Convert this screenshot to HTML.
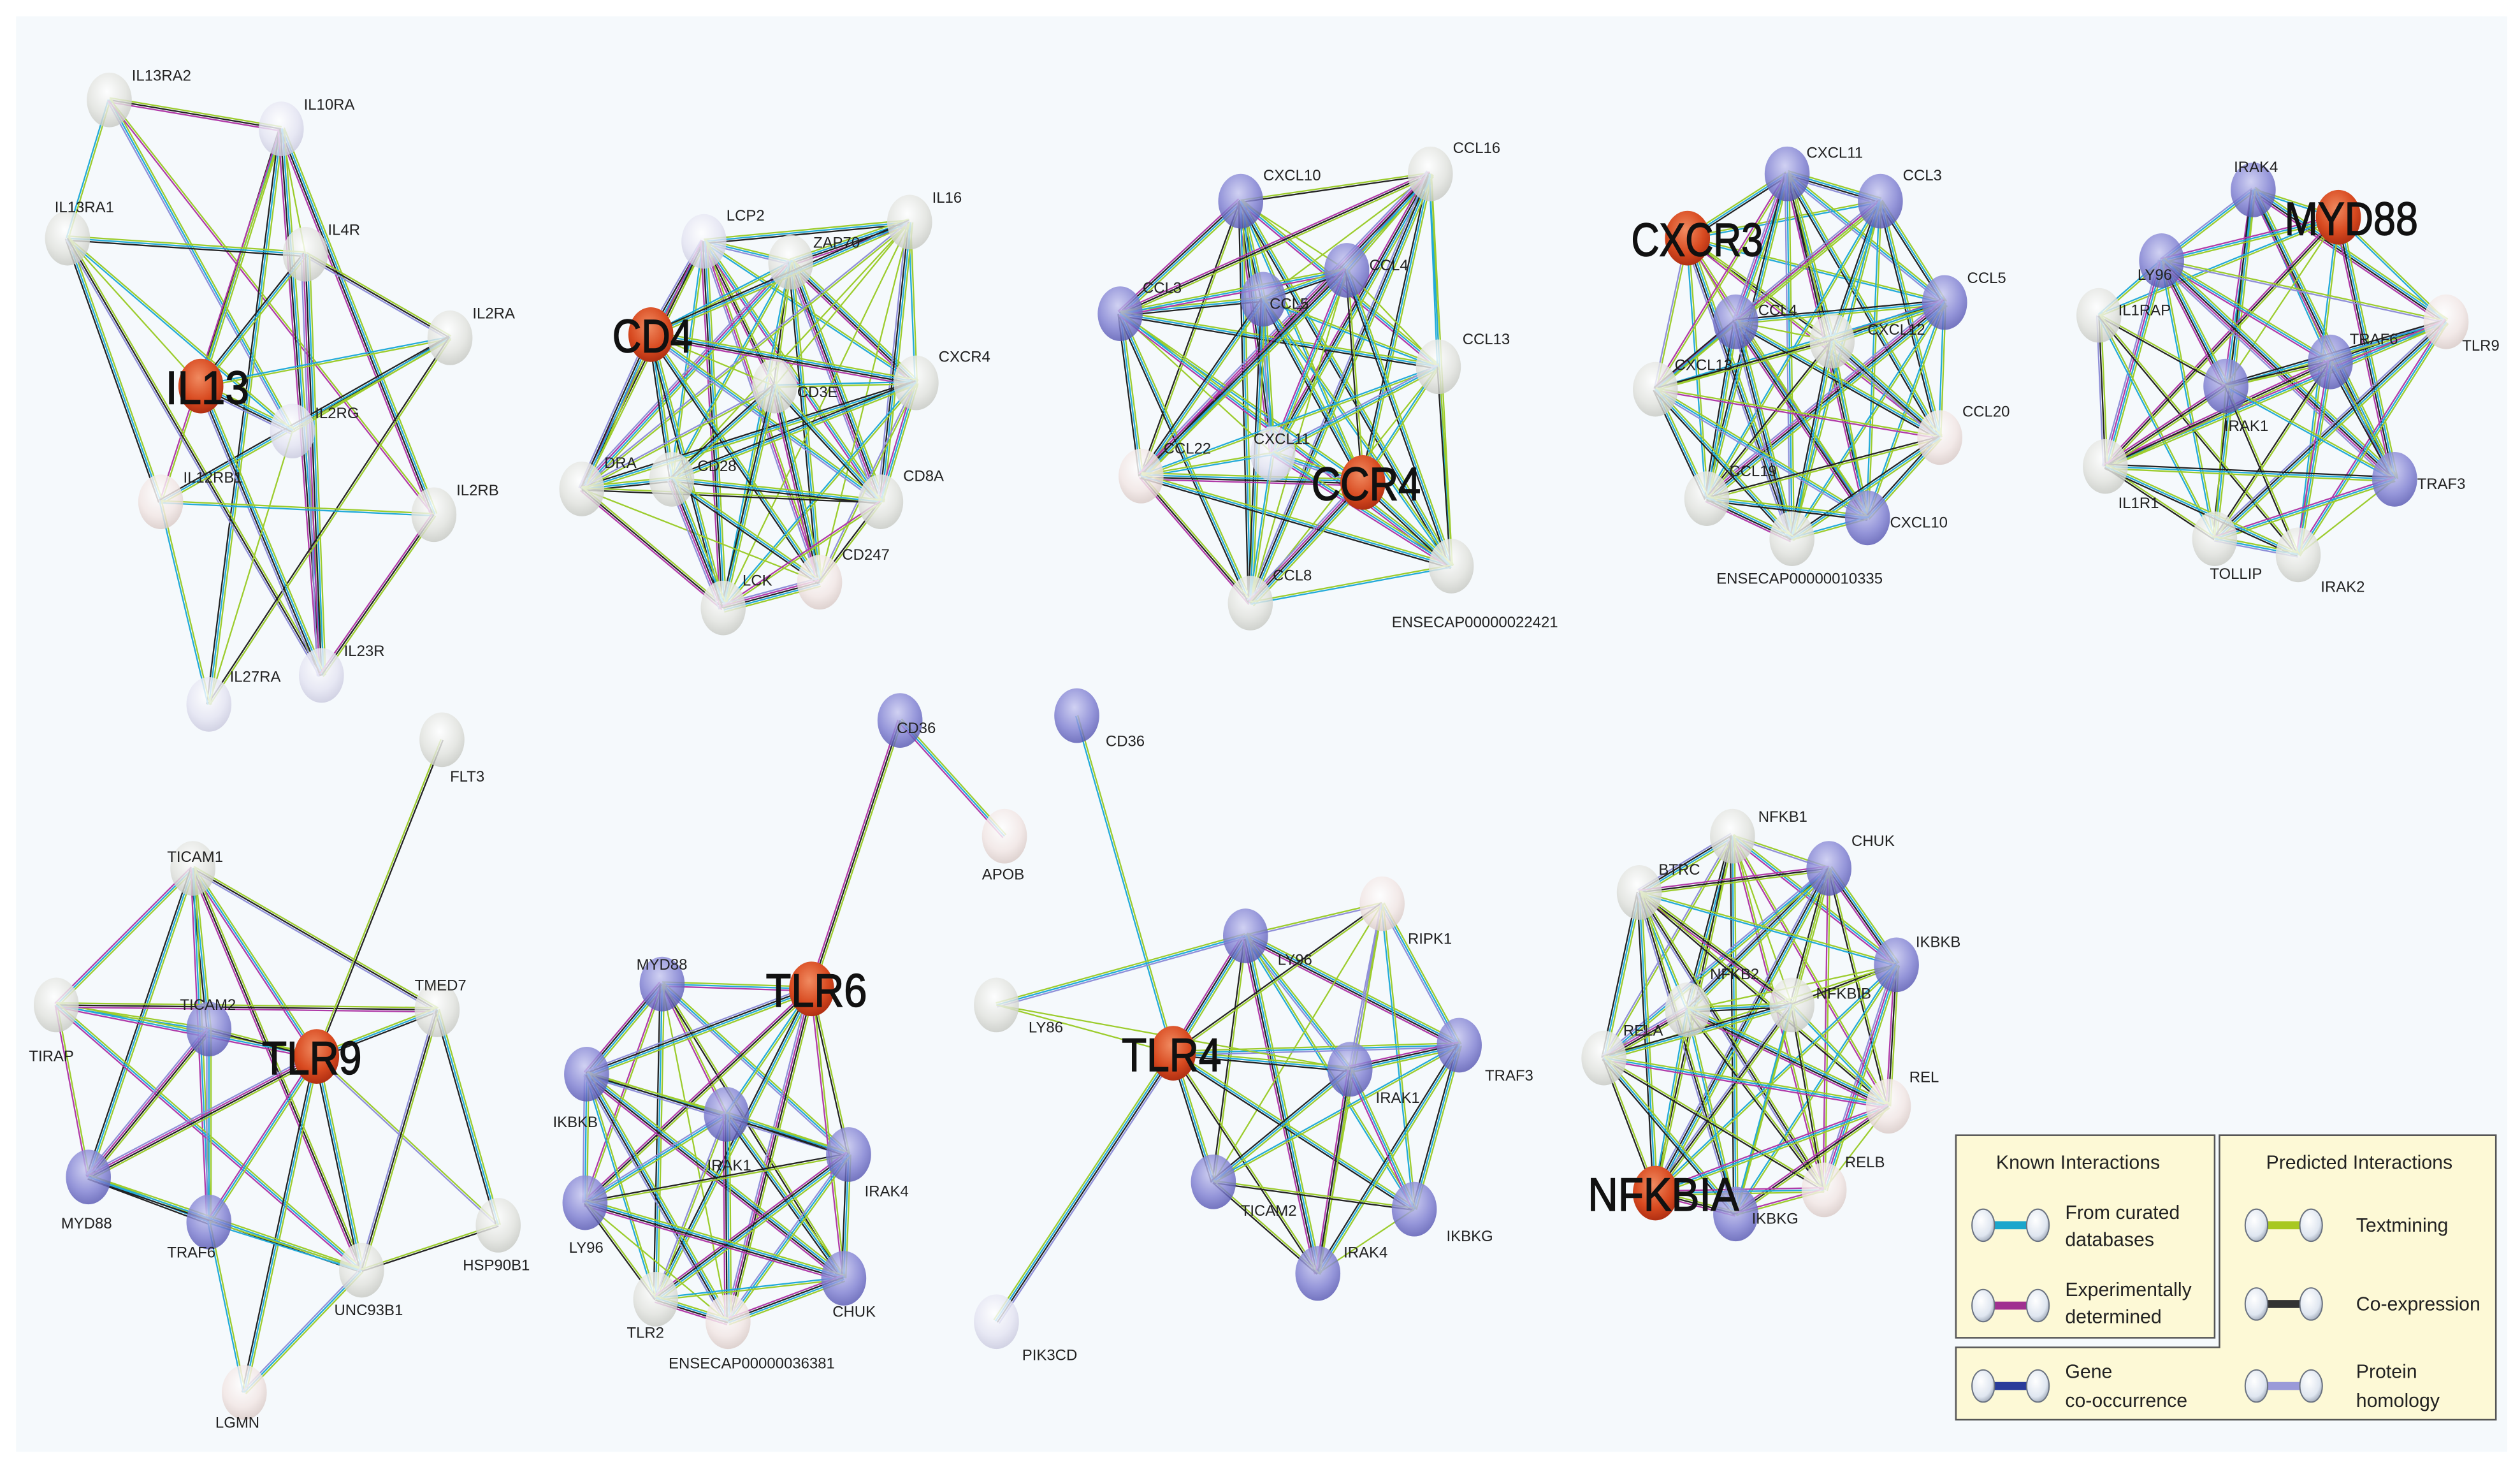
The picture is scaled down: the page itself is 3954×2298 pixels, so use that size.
<!DOCTYPE html>
<html><head><meta charset="utf-8">
<style>html,body{margin:0;padding:0;background:#fff}svg{display:block}</style>
</head><body>
<svg id="s" xmlns="http://www.w3.org/2000/svg" width="3954" height="2298" viewBox="0 0 1568 911">
<defs>
<radialGradient id="gG" cx="0.45" cy="0.35" r="0.7"><stop offset="0" stop-color="#ffffff"/><stop offset="0.6" stop-color="#e2e3de"/><stop offset="1" stop-color="#c2c4be"/></radialGradient>
<radialGradient id="gB" cx="0.45" cy="0.35" r="0.7"><stop offset="0" stop-color="#c8c8f0"/><stop offset="0.6" stop-color="#8080d2"/><stop offset="1" stop-color="#5050ac"/></radialGradient>
<radialGradient id="gL" cx="0.45" cy="0.35" r="0.7"><stop offset="0" stop-color="#ffffff"/><stop offset="0.6" stop-color="#e4e4f2"/><stop offset="1" stop-color="#c4c4da"/></radialGradient>
<radialGradient id="gP" cx="0.45" cy="0.35" r="0.7"><stop offset="0" stop-color="#ffffff"/><stop offset="0.6" stop-color="#f2e6e4"/><stop offset="1" stop-color="#d4c4c0"/></radialGradient>
<radialGradient id="gR" cx="0.45" cy="0.35" r="0.7"><stop offset="0" stop-color="#f08a60"/><stop offset="0.6" stop-color="#d84a20"/><stop offset="1" stop-color="#a82a10"/></radialGradient>
<radialGradient id="gK" cx="0.4" cy="0.35" r="0.7"><stop offset="0" stop-color="#ffffff"/><stop offset="0.7" stop-color="#dfe6f0"/><stop offset="1" stop-color="#9aa4b4"/></radialGradient>
</defs>
<rect x="0" y="0" width="1568" height="911" fill="#ffffff"/>
<rect x="10" y="10" width="1550" height="893" fill="#f5f9fc"/>
<g id="edges"></g><g id="nodes"></g><g id="labels" font-family="Liberation Sans, sans-serif" fill="#222"></g>
<g id="legend" font-family="Liberation Sans, sans-serif" fill="#222" font-size="12">
<path d="M1381,706 H1553 V883 H1217 V838 H1381 Z" fill="#fdf9d6" stroke="#555" stroke-width="1"/>
<rect x="1217" y="706" width="161" height="126" fill="#fdf9d6" stroke="#555" stroke-width="1"/>
<text x="1293" y="727" text-anchor="middle">Known Interactions</text>
<text x="1468" y="727" text-anchor="middle">Predicted Interactions</text>
<text x="1285" y="758">From curated</text><text x="1285" y="775">databases</text>
<text x="1285" y="806">Experimentally</text><text x="1285" y="823">determined</text>
<text x="1285" y="857">Gene</text><text x="1285" y="875">co-occurrence</text>
<text x="1466" y="766">Textmining</text>
<text x="1466" y="815">Co-expression</text>
<text x="1466" y="857">Protein</text><text x="1466" y="875">homology</text>
</g>
</svg>
<script>
var E=document.getElementById('edges'),N=document.getElementById('nodes'),L=document.getElementById('labels'),LG=document.getElementById('legend');
var NS='http://www.w3.org/2000/svg';
function el(t,a,p){var e=document.createElementNS(NS,t);for(var k in a)e.setAttribute(k,a[k]);p.appendChild(e);return e;}
var seed=7;function rnd(){seed=(seed*16807)%2147483647;return seed/2147483647;}
var COL=['#9ccc2c','#22aad8','#222222','#b03aa8','#8f8fd8','#3a4aa8'];
function edge(a,b){
 var dx=b[1]-a[1],dy=b[2]-a[2],l=Math.sqrt(dx*dx+dy*dy)||1,px=-dy/l,py=dx/l;
 var cs=[];cs.push(0);
 if(rnd()<0.7)cs.push(1);if(rnd()<0.55)cs.push(2);if(rnd()<0.3)cs.push(3);if(rnd()<0.2)cs.push(4);
 var n=cs.length;
 for(var i=0;i<n;i++){var o=(i-(n-1)/2)*1.3;
  el('line',{x1:a[1]+px*o,y1:a[2]+py*o,x2:b[1]+px*o,y2:b[2]+py*o,stroke:COL[cs[i]],'stroke-width':0.9},E);}
}
var clusters=[
{n:[['IL13RA2',68,62,'G'],['IL10RA',175,80,'L'],['IL13RA1',42,148,'G',34,128],['IL4R',190,158,'G'],['IL2RA',280,210,'G'],['IL13',125,240,'R'],['IL2RG',182,268,'L',196,256],['IL12RB1',100,312,'P',114,296],['IL2RB',270,320,'G'],['IL27RA',130,438,'L',143,420],['IL23R',200,420,'L',214,404]],p:0.62},
{n:[['LCP2',438,150,'L',452,133],['ZAP70',492,163,'G',506,150],['IL16',566,138,'G'],['CD4',405,208,'R'],['CXCR4',570,238,'G',584,221],['CD3E',482,240,'G',496,243],['DRA',362,304,'G',376,287],['CD28',418,298,'G',434,289],['CD8A',548,312,'G',562,295],['CD247',510,362,'P',524,344],['LCK',450,378,'G',462,360]],p:1},
{n:[['CXCL10',772,125,'B',786,108],['CCL16',890,108,'G',904,91],['CCL3',697,195,'B',711,178],['CCL5',786,186,'B',790,188],['CCL4',838,168,'B',852,164],['CCL13',895,228,'G',910,210],['CCL22',710,296,'P',724,278],['CXCL11',792,282,'L',780,272],['CCR4',848,300,'R'],['CCL8',778,375,'G',792,357],['ENSECAP00000022421',903,352,'G',866,386]],p:1},
{n:[['CXCR3',1050,148,'R'],['CXCL11',1112,108,'B',1124,94],['CCL3',1170,125,'B',1184,108],['CCL5',1210,188,'B',1224,172],['CCL4',1080,200,'B',1094,192],['CXCL12',1140,212,'G',1162,204],['CXCL13',1030,242,'G',1042,226],['CCL20',1207,272,'P',1221,255],['CCL19',1062,310,'G',1076,292],['CXCL10',1162,322,'B',1176,324],['ENSECAP00000010335',1115,335,'G',1068,359]],p:1},
{n:[['IRAK4',1402,118,'B',1390,103],['MYD88',1455,135,'R'],['LY96',1345,162,'B',1330,170],['IL1RAP',1306,196,'G',1318,192],['TLR9',1522,200,'P',1532,214],['TRAF6',1450,225,'B',1462,210],['IRAK1',1385,240,'B',1384,264],['TRAF3',1490,298,'B',1504,300],['IL1R1',1310,290,'G',1318,312],['TOLLIP',1378,335,'G',1375,356],['IRAK2',1430,345,'G',1444,364]],p:0.85},
{n:[['FLT3',275,460,'G',280,482],['TICAM1',120,540,'G',104,532],['TMED7',272,628,'G',258,612],['TICAM2',130,640,'B',112,624],['TIRAP',35,625,'G',18,656],['TLR9',197,657,'R'],['MYD88',55,732,'B',38,760],['TRAF6',130,760,'B',104,778],['HSP90B1',310,762,'G',288,786],['UNC93B1',225,790,'G',208,814],['LGMN',152,866,'P',134,884]],
 e:[[1,4],[1,3],[1,5],[1,6],[1,2],[1,9],[1,7],[4,3],[4,5],[4,6],[4,2],[4,9],[3,5],[3,6],[3,7],[5,6],[5,7],[5,9],[5,2],[5,8],[5,10],[5,0],[6,7],[6,9],[7,9],[7,10],[2,8],[2,9],[9,10],[9,8]]},
{n:[['CD36',560,448,'B',558,452],['APOB',625,520,'P',611,543],['MYD88',412,612,'B',396,599],['TLR6',505,615,'R'],['IKBKB',365,668,'B',344,697],['IRAK1',452,693,'B',440,724],['IRAK4',528,718,'B',538,740],['LY96',364,748,'B',354,775],['CHUK',525,795,'B',518,815],['TLR2',408,808,'G',390,828],['ENSECAP00000036381',453,822,'P',416,847]],
 dense:[2,3,4,5,6,7,8,9,10],e:[[0,1],[0,3]]},
{n:[['CD36',670,445,'B',688,460],['LY96',775,582,'B',795,596],['RIPK1',860,562,'P',876,583],['LY86',620,625,'G',640,638],['TLR4',730,655,'R'],['TRAF3',908,650,'B',924,668],['IRAK1',840,665,'B',856,682],['TICAM2',755,735,'B',772,752],['IKBKG',880,752,'B',900,768],['IRAK4',820,792,'B',836,778],['PIK3CD',620,822,'L',636,842]],
 dense:[1,2,4,5,6,7,8,9],e:[[0,4],[10,4],[3,4],[3,1],[3,6]]},
{n:[['NFKB1',1078,520,'G',1094,507],['CHUK',1138,540,'B',1152,522],['BTRC',1020,555,'G',1032,540],['IKBKB',1180,600,'B',1192,585],['NFKB2',1050,628,'G',1064,605],['NFKBIB',1115,625,'G',1130,617],['RELA',998,658,'G',1010,640],['REL',1175,688,'P',1188,669],['RELB',1135,740,'P',1148,722],['NFKBIA',1030,742,'R'],['IKBKG',1080,755,'B',1090,757]],p:1}
];
var BIG={IL13:[129,52],CD4:[406,50],CCR4:[850,68],CXCR3:[1056,82],MYD88:[1463,83],TLR9:[194,62],TLR6:[508,63],TLR4:[729,62],NFKBIA:[1035,94]};
clusters.forEach(function(c){
 var n=c.n;
 if(c.p){for(var i=0;i<n.length;i++)for(var j=i+1;j<n.length;j++){if(rnd()<c.p)edge(n[i],n[j]);}}
 if(c.dense){var d=c.dense;for(var i=0;i<d.length;i++)for(var j=i+1;j<d.length;j++)edge(n[d[i]],n[d[j]]);}
 if(c.e)c.e.forEach(function(p){edge(n[p[0]],n[p[1]]);});
 n.forEach(function(v){
  var g={G:'gG',B:'gB',L:'gL',P:'gP',R:'gR'}[v[3]];
  el('ellipse',{cx:v[1],cy:v[2],rx:14,ry:17,fill:'url(#'+g+')','fill-opacity':v[3]=='R'?1:0.82},N);
  if(v[3]=='R'){var b=BIG[v[0]];
   var t=el('text',{x:b[0],y:v[2]+11,'text-anchor':'middle','font-size':29,textLength:b[1],lengthAdjust:'spacingAndGlyphs',fill:'#111',stroke:'#111','stroke-width':0.6},L);t.textContent=v[0];
  }else{
   var lx=v[4]!==undefined?v[4]:v[1]+14,ly=v[5]!==undefined?v[5]:v[2]-16;
   var t=el('text',{x:lx,y:ly+4,'font-size':9.5},L);t.textContent=v[0];
  }
 });
});
function icon(x,y,c){el('rect',{x:x,y:y-2.5,width:34,height:5,fill:c},LG);
 el('ellipse',{cx:x,cy:y,rx:7,ry:10,fill:'url(#gK)',stroke:'#6a7280','stroke-width':0.8},LG);
 el('ellipse',{cx:x+34,cy:y,rx:7,ry:10,fill:'url(#gK)',stroke:'#6a7280','stroke-width':0.8},LG);}
icon(1234,762,'#1aa6cc');icon(1234,812,'#a03090');icon(1234,862,'#2a3c9a');
icon(1404,762,'#a8c820');icon(1404,811,'#333');icon(1404,862,'#9a9ad8');
</script>
</body></html>
